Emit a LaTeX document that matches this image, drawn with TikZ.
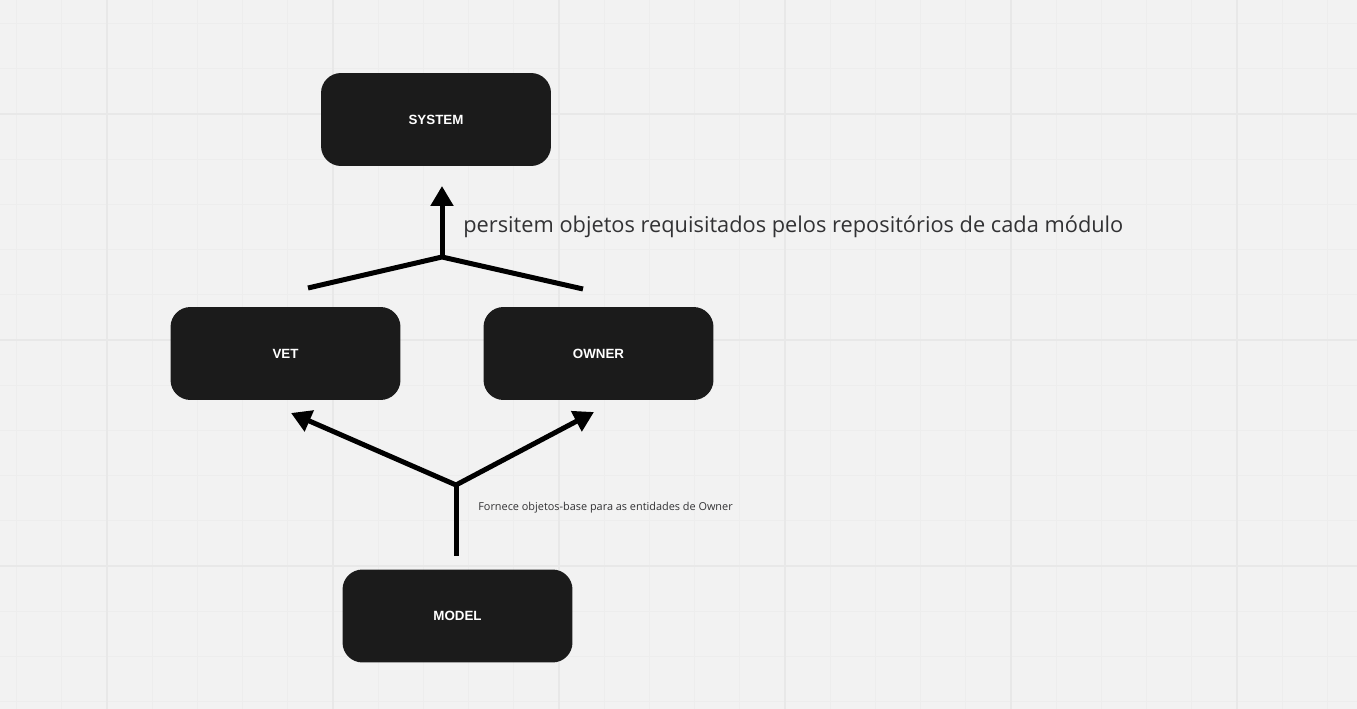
\documentclass[tikz,border=0pt]{standalone}
\usepackage{fontspec}
\setmainfont{Open Sans}
\newfontfamily\boxfont{Liberation Sans}
\definecolor{board}{RGB}{242,242,242}
\definecolor{gridminor}{RGB}{237,237,237}
\definecolor{gridmajor}{RGB}{232,232,232}
\definecolor{boxfill}{RGB}{27,27,27}
\definecolor{note}{RGB}{50,50,52}
\usetikzlibrary{arrows.meta}

\begin{document}
\begin{tikzpicture}[x=0.02cm,y=-0.02cm,
    module/.style={rounded corners=0.4cm,fill=boxfill,minimum width=4.6cm,minimum height=1.86cm,
      text=white,font=\boxfont\fontsize{7.6}{9}\selectfont},
    flow/.style={line width=0.1cm,black},
    flowtip/.style={flow,-{Triangle[length=0.4cm,width=0.44cm]}},
    minorline/.style={gridminor,line width=0.02cm},
    majorline/.style={gridmajor,line width=0.03cm}]
  \useasboundingbox[fill=board] (0,0) rectangle (1357,709);
  % board grid
  \foreach \i in {-2,...,28}
    \draw[minorline] ({107+\i*45.2},0) -- ++(0,709);
  \foreach \i in {-2,...,14}
    \draw[minorline] (0,{114+\i*45.2}) -- ++(1357,0);
  \foreach \i in {0,...,5}
    \draw[majorline] ({107+\i*226},0) -- ++(0,709);
  \foreach \i in {0,...,2}
    \draw[majorline] (0,{114+\i*226}) -- ++(1357,0);

  % modules
  \node[module] (system) at (436,119.5) {\textbf{SYSTEM}};
  \node[module] (vet) at (285.5,353.5) {\textbf{VET}};
  \node[module] (owner) at (598.5,353.5) {\textbf{OWNER}};
  \node[module] (model) at (457.5,616) {\textbf{MODEL}};

  % top junction
  \coordinate (upjoin) at (442,257);
  \coordinate (upleft) at (308,288);
  \coordinate (upright) at (583,289);
  \coordinate (uptip) at (442,186);
  \draw[flow,line join=miter] (upleft) -- (upjoin) -- (upright);
  \draw[flowtip] (upjoin) -- (uptip);
  \node[font=\fontsize{12.4}{14}\selectfont,text=note,anchor=base west,inner sep=0pt] (persist) at (463,232.5)
    {persitem objetos requisitados pelos repositórios de cada módulo};

  % bottom junction
  \coordinate (lowjoin) at (456,485);
  \coordinate (lowfoot) at (456,556);
  \coordinate (vettip) at (291,413);
  \coordinate (ownertip) at (594,412);
  \draw[flow] (lowfoot) -- (lowjoin);
  \draw[flowtip] (lowjoin) -- (vettip);
  \draw[flowtip] (lowjoin) -- (ownertip);
  \node[font=\fontsize{6.2}{7}\selectfont,text=note,anchor=base west,inner sep=0pt] (supply) at (478,511)
    {Fornece objetos-base para as entidades de Owner};
\end{tikzpicture}
\end{document}
